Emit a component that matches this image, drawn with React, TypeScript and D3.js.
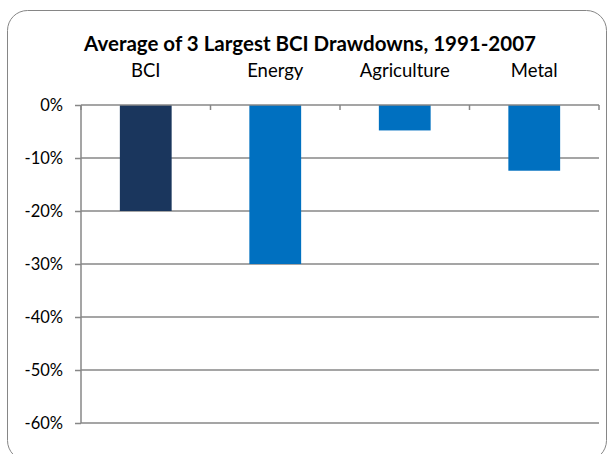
import React, { useEffect, useRef } from "react";
import * as d3 from "d3";

const categories = ["BCI", "Energy", "Agriculture", "Metal"];
const drawdowns = [-0.2, -0.3, -0.048, -0.124];
const yTicks = [0, -0.1, -0.2, -0.3, -0.4, -0.5, -0.6];
const title = "Average of 3 Largest BCI Drawdowns, 1991-2007";

const W = 608;
const H = 454;
const FONT = "Lato, 'Open Sans', sans-serif";

const App: React.FC = () => {
  const svgRef = useRef<SVGSVGElement>(null);

  useEffect(() => {
    const svg = d3.select(svgRef.current!);
    svg.selectAll("*").remove();

    const left = 81;
    const right = 599;
    const top = 105;
    const bottom = 423;

    const x = d3
      .scaleBand<string>()
      .domain(categories)
      .range([left, right])
      .paddingInner(0.6)
      .paddingOuter(0.3);
    const y = d3.scaleLinear().domain([-0.6, 0]).range([bottom, top]);

    // chart frame
    svg
      .append("rect")
      .attr("x", 7.5)
      .attr("y", 10.5)
      .attr("width", 599)
      .attr("height", 450)
      .attr("rx", 20)
      .attr("fill", "#fff")
      .attr("stroke", "#868686")
      .attr("stroke-width", 1);

    svg
      .append("text")
      .attr("x", 310)
      .attr("y", 51)
      .attr("text-anchor", "middle")
      .attr("font-family", FONT)
      .attr("font-weight", "bold")
      .attr("font-size", 20.5)
      .attr("fill", "#000")
      .text(title);

    // gridlines
    svg
      .append("g")
      .selectAll("line")
      .data(yTicks.slice(1))
      .join("line")
      .attr("x1", left)
      .attr("x2", right)
      .attr("y1", (d) => y(d))
      .attr("y2", (d) => y(d))
      .attr("stroke", "#878787")
      .attr("stroke-width", 1.5);

    // bars
    svg
      .append("g")
      .selectAll("rect")
      .data(drawdowns)
      .join("rect")
      .attr("x", (d, i) => x(categories[i])!)
      .attr("y", y(0))
      .attr("width", x.bandwidth())
      .attr("height", (d) => y(d) - y(0))
      .attr("fill", (d, i) => (i === 0 ? "#1a365d" : "#0070c0"));

    // y axis
    const yAxis: any = d3
      .axisLeft(y)
      .tickValues(yTicks)
      .tickSize(6)
      .tickPadding(12)
      .tickFormat((d: any) => `${Math.round(d * 100)}%`);
    const gy = svg.append("g").attr("transform", `translate(${left},0)`).call(yAxis);
    gy.select(".domain").attr("stroke", "#878787").attr("stroke-width", 1.5).attr("d", `M0,${top}V${bottom}`);
    gy.selectAll(".tick line").attr("stroke", "#878787").attr("stroke-width", 1.5);
    gy.selectAll(".tick text")
      .attr("font-family", FONT)
      .attr("font-size", 16.5)
      .attr("fill", "#000");

    // category axis along 0%
    const bounds = d3.range(categories.length + 1).map((i) => left + i * x.step());
    svg
      .append("line")
      .attr("x1", left)
      .attr("x2", right)
      .attr("y1", y(0))
      .attr("y2", y(0))
      .attr("stroke", "#878787")
      .attr("stroke-width", 1.5);
    svg
      .append("g")
      .selectAll("line")
      .data(bounds)
      .join("line")
      .attr("x1", (d) => d)
      .attr("x2", (d) => d)
      .attr("y1", y(0))
      .attr("y2", y(0) + 5)
      .attr("stroke", "#878787")
      .attr("stroke-width", 1.5);
    svg
      .append("g")
      .selectAll("text")
      .data(categories)
      .join("text")
      .attr("x", (d) => x(d)! + x.bandwidth() / 2)
      .attr("y", 77)
      .attr("text-anchor", "middle")
      .attr("font-family", FONT)
      .attr("font-size", 18.5)
      .attr("fill", "#000")
      .text((d) => d);
  }, []);

  return (
    <svg
      ref={svgRef}
      width={W}
      height={H}
      style={{ position: "absolute", left: 0, top: 0, background: "#fff" }}
    />
  );
};

export default App;
